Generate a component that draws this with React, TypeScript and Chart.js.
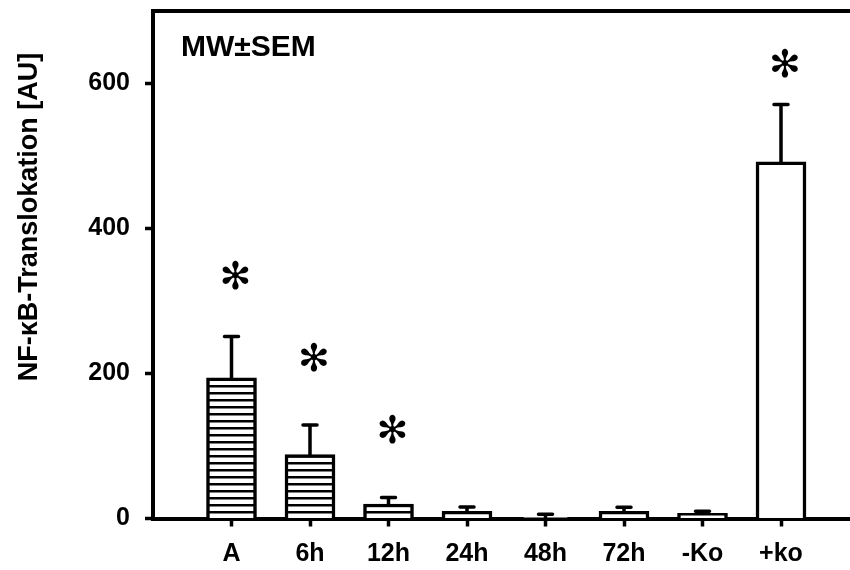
import React, { useEffect, useRef } from "react";
import { Chart, registerables } from "chart.js";

Chart.register(...registerables);

const categories = ["A", "6h", "12h", "24h", "48h", "72h", "-Ko", "+ko"];
const means = [194, 88, 20, 10, 1.5, 10, 7, 492];
const upperErrors = [251, 129, 29, 16, 6, 15.5, 10, 571];
const hatched = [true, true, true, false, false, false, false, false];
const asteriskValues = [330, 217, 118, null, null, null, null, 623];
const yTicks = [0, 200, 400, 600];
const yTitle = "NF-\u03baB-Translokation [AU]";
const annotation = "MW\u00b1SEM";

const FONT = "'Liberation Sans', Arial, sans-serif";

function makePattern(): CanvasPattern | string {
  const c = document.createElement("canvas");
  c.width = 8;
  c.height = 7;
  const g = c.getContext("2d");
  if (!g) return "#fff";
  g.fillStyle = "#fff";
  g.fillRect(0, 0, 8, 7);
  g.fillStyle = "#000";
  g.fillRect(0, 0, 8, 2.5);
  const p = g.createPattern(c, "repeat");
  return p || "#fff";
}

export default function App() {
  const ref = useRef<HTMLCanvasElement | null>(null);

  useEffect(() => {
    const canvas = ref.current;
    if (!canvas) return;
    const pattern = makePattern();

    const extras = {
      id: "extras",
      afterDatasetsDraw(chart: any) {
        const ctx = chart.ctx;
        const xs = chart.scales.x;
        const ys = chart.scales.y;
        const area = chart.chartArea;
        ctx.save();
        // error bars
        ctx.strokeStyle = "#000";
        ctx.lineWidth = 3.5;
        ctx.lineCap = "round";
        means.forEach((m, i) => {
          const x = xs.getPixelForValue(i);
          const y0 = ys.getPixelForValue(m);
          const y1 = ys.getPixelForValue(upperErrors[i]);
          ctx.beginPath();
          ctx.moveTo(x, y0);
          ctx.lineTo(x, y1);
          ctx.moveTo(x - 7, y1);
          ctx.lineTo(x + 7, y1);
          ctx.stroke();
        });
        // asterisks
        ctx.fillStyle = "#000";
        ctx.textAlign = "center";
        ctx.textBaseline = "middle";
        ctx.font = "38px 'DejaVu Sans'";
        asteriskValues.forEach((v, i) => {
          if (v == null) return;
          ctx.fillText("\u273B", xs.getPixelForValue(i) + 4, ys.getPixelForValue(v));
        });
        // top frame line
        ctx.lineCap = "butt";
        ctx.lineWidth = 4;
        ctx.beginPath();
        ctx.moveTo(area.left - 2, area.top);
        ctx.lineTo(area.right, area.top);
        ctx.stroke();
        // annotation
        ctx.textAlign = "left";
        ctx.font = `bold 30px ${FONT}`;
        ctx.fillText(annotation, area.left + 28, area.top + 37);
        // y title
        ctx.translate(30, 217);
        ctx.rotate(-Math.PI / 2);
        ctx.textAlign = "center";
        ctx.font = `bold 27px ${FONT}`;
        ctx.fillText(yTitle, 0, 0);
        ctx.restore();
      },
    };

    const chart = new Chart(canvas, {
      type: "bar",
      data: {
        datasets: [
          {
            data: means.map((m, i) => ({ x: i, y: m })),
            backgroundColor: means.map((_, i) => (hatched[i] ? pattern : "#fff")) as any,
            borderColor: "#000",
            borderWidth: 3.5,
            barThickness: 50,
          },
        ],
      },
      options: {
        animation: false,
        responsive: false,
        events: [],
        layout: { padding: { top: 11, right: 10.5, left: 0, bottom: 0 } },
        plugins: { legend: { display: false }, tooltip: { enabled: false } },
        scales: {
          x: {
            type: "linear",
            min: -1,
            max: 8,
            offset: false,
            afterBuildTicks: (s: any) => {
              s.ticks = categories.map((_, i) => ({ value: i }));
            },
            afterFit: (s: any) => {
              s.height = 51.5;
              s.paddingLeft = 0;
              s.paddingRight = 0;
            },
            ticks: {
              callback: (v: any) => categories[v] ?? "",
              color: "#000",
              font: { family: FONT, size: 25, weight: "bold" },
              padding: 13,
              autoSkip: false,
              maxRotation: 0,
            },
            grid: {
              display: true,
              offset: false,
              drawOnChartArea: false,
              drawTicks: true,
              tickLength: 8,
              tickWidth: 3.5,
              tickColor: "#000",
              color: "#000",
            },
            border: { display: true, color: "#000", width: 4 },
          },
          y: {
            min: 0,
            max: 700,
            afterBuildTicks: (s: any) => {
              s.ticks = yTicks.map((value) => ({ value }));
            },
            afterFit: (s: any) => {
              s.width = 153;
              s.paddingTop = 0;
              s.paddingBottom = 0;
            },
            ticks: {
              color: "#000",
              font: { family: FONT, size: 25, weight: "bold" },
              padding: 15,
            },
            grid: {
              display: true,
              drawOnChartArea: false,
              drawTicks: true,
              tickLength: 8,
              tickWidth: 3.5,
              tickColor: "#000",
              color: "#000",
            },
            border: { display: true, color: "#000", width: 4 },
          },
        },
      },
      plugins: [extras],
    });
    return () => chart.destroy();
  }, []);

  return (
    <div
      style={{
        position: "fixed",
        left: 0,
        top: 0,
        width: 850,
        height: 570,
        overflow: "hidden",
        background: "#fff",
      }}
    >
      <canvas ref={ref} width={870} height={570} style={{ display: "block", width: 870, height: 570 }} />
    </div>
  );
}
